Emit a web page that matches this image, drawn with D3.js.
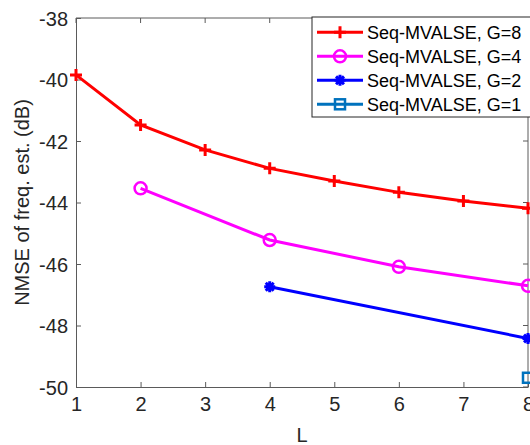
<!DOCTYPE html>
<html>
<head>
<meta charset="utf-8">
<style>
  body { margin: 0; background: #fff; }
  svg { display: block; font-family: "Liberation Sans", Arial, sans-serif; }
</style>
</head>
<body>
<svg width="530" height="445"></svg>
<script src="https://cdnjs.cloudflare.com/ajax/libs/d3/7.8.5/d3.min.js"></script>
<script>
// data
var L8 = [1, 2, 3, 4, 5, 6, 7, 8];
var nmseG8 = [-39.85, -41.48, -42.29, -42.89, -43.30, -43.67, -43.95, -44.19];
var L4 = [2, 4, 6, 8];
var nmseG4 = [-43.54, -45.22, -46.09, -46.71];
var L2 = [4, 8];
var nmseG2 = [-46.74, -48.42];
var L1 = [8];
var nmseG1 = [-49.70];

var xTicks = [1, 2, 3, 4, 5, 6, 7, 8];
var yTicks = [-50, -48, -46, -44, -42, -40, -38];
var seriesNames = ["Seq-MVALSE, G=8", "Seq-MVALSE, G=4", "Seq-MVALSE, G=2", "Seq-MVALSE, G=1"];

var svg = d3.select("svg");
var mLeft = 76, mRight = 528, mTop = 18, mBottom = 387;

var x = d3.scaleLinear().domain([1, 8]).range([mLeft, mRight]);
var y = d3.scaleLinear().domain([-50, -38]).range([mBottom, mTop]);

var axisColor = "#5a5a5a";
var fmt = function(d) { return String(d); }; // plain hyphen minus like MATLAB

// axes (MATLAB style: ticks inward, box)
var gx = svg.append("g").attr("transform", "translate(0," + mBottom + ")")
  .call(d3.axisBottom(x).tickValues(xTicks).tickFormat(fmt).tickSizeInner(-5).tickSizeOuter(0));
var gy = svg.append("g").attr("transform", "translate(" + mLeft + ",0)")
  .call(d3.axisLeft(y).tickValues(yTicks).tickFormat(fmt).tickSizeInner(-5).tickSizeOuter(0));
[gx, gy].forEach(function(g) {
  g.selectAll("path, line").attr("stroke", axisColor);
  g.selectAll("text").attr("fill", "#262626").attr("font-size", 20)
    .attr("font-family", "'Liberation Sans', Arial, sans-serif");
});
gx.selectAll("text").attr("y", 10).attr("dy", "0.71em");
gy.selectAll("text").attr("x", -8).attr("dy", "0.35em");

// box top/right with opposite-side ticks
svg.append("line").attr("x1", mLeft).attr("x2", mRight).attr("y1", mTop).attr("y2", mTop).attr("stroke", axisColor);
svg.append("line").attr("x1", mRight).attr("x2", mRight).attr("y1", mTop).attr("y2", mBottom).attr("stroke", axisColor);
svg.selectAll(".rt").data(yTicks).enter().append("line")
  .attr("x1", mRight - 5).attr("x2", mRight).attr("y1", function(d) { return y(d); }).attr("y2", function(d) { return y(d); })
  .attr("stroke", axisColor);
svg.selectAll(".tt").data(xTicks).enter().append("line")
  .attr("x1", function(d) { return x(d); }).attr("x2", function(d) { return x(d); })
  .attr("y1", mTop).attr("y2", mTop + 5).attr("stroke", axisColor);

// labels
svg.append("text").attr("x", (mLeft + mRight) / 2).attr("y", 442).attr("text-anchor", "middle")
  .attr("font-size", 20).attr("fill", "#262626").text("L");
svg.append("text").attr("transform", "translate(29," + (mTop + mBottom) / 2 + ") rotate(-90)")
  .attr("text-anchor", "middle").attr("font-size", 20).attr("fill", "#262626")
  .text("NMSE of freq. est. (dB)");

// markers
function drawMarker(g, type, color, cx, cy) {
  if (type == "plus") {
    g.append("path").attr("d", "M" + (cx - 6) + "," + cy + "H" + (cx + 6) + "M" + cx + "," + (cy - 6) + "V" + (cy + 6))
      .attr("stroke", color).attr("stroke-width", 3).attr("fill", "none");
  } else if (type == "circle") {
    g.append("circle").attr("cx", cx).attr("cy", cy).attr("r", 6)
      .attr("stroke", color).attr("stroke-width", 2.5).attr("fill", "none");
  } else if (type == "star") {
    var r = 5.5, s = r * 0.72;
    g.append("path").attr("d", "M" + (cx - r) + "," + cy + "H" + (cx + r) + "M" + cx + "," + (cy - r) + "V" + (cy + r) +
        "M" + (cx - s) + "," + (cy - s) + "L" + (cx + s) + "," + (cy + s) + "M" + (cx - s) + "," + (cy + s) + "L" + (cx + s) + "," + (cy - s))
      .attr("stroke", color).attr("stroke-width", 3).attr("fill", "none");
  } else if (type == "square") {
    g.append("rect").attr("x", cx - 5).attr("y", cy - 5).attr("width", 10).attr("height", 10)
      .attr("stroke", color).attr("stroke-width", 2.5).attr("fill", "none");
  }
}

var series = [
  { xs: L8, ys: nmseG8, color: "#ff0000", marker: "plus" },
  { xs: L4, ys: nmseG4, color: "#ff00ff", marker: "circle" },
  { xs: L2, ys: nmseG2, color: "#0000ff", marker: "star" },
  { xs: L1, ys: nmseG1, color: "#0072bd", marker: "square" }
];

var line = d3.line().x(function(d) { return x(d[0]); }).y(function(d) { return y(d[1]); });

series.forEach(function(s) {
  var pts = s.xs.map(function(v, i) { return [v, s.ys[i]]; });
  var g = svg.append("g");
  g.append("path").datum(pts).attr("d", line).attr("fill", "none")
    .attr("stroke", s.color).attr("stroke-width", 3);
  pts.forEach(function(p) { drawMarker(g, s.marker, s.color, x(p[0]), y(p[1])); });
});

// legend
var lg = svg.append("g");
lg.append("rect").attr("x", 312).attr("y", 17).attr("width", 240).attr("height", 100)
  .attr("fill", "#fff").attr("stroke", "#262626").attr("stroke-width", 1);
seriesNames.forEach(function(name, i) {
  var cy = 32.3 + i * 24;
  var s = series[i];
  lg.append("line").attr("x1", 317).attr("x2", 363).attr("y1", cy).attr("y2", cy)
    .attr("stroke", s.color).attr("stroke-width", 3);
  drawMarker(lg, s.marker, s.color, 340, cy);
  lg.append("text").attr("x", 367).attr("y", cy + 7).attr("font-size", 18).attr("fill", "#000").text(name);
});
</script>
</body>
</html>
